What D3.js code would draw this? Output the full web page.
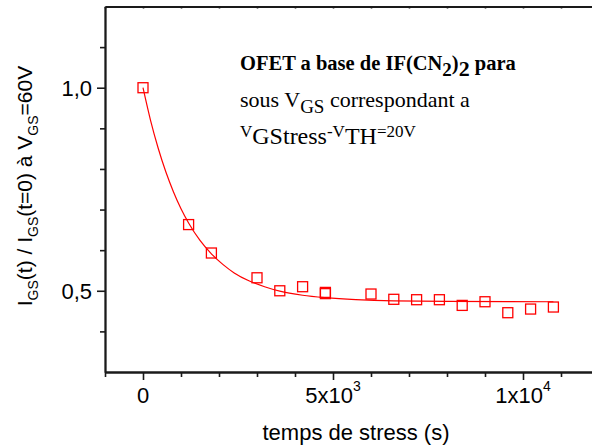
<!DOCTYPE html>
<html><head><meta charset="utf-8">
<script src="https://cdn.jsdelivr.net/npm/d3@7"></script>
<style>body{margin:0;background:#fff}svg{display:block}</style>
</head><body><svg id="c" width="592" height="448"></svg>
<script>
// measured data (stress time in s, normalized current)
const timeS = [0,1200,1800,3000,3600,4200,4800,4800,6000,6600,7200,7800,8400,9000,9600,10200,10800];
const ratio = [1.0,0.663,0.593,0.532,0.500,0.510,0.496,0.493,0.492,0.479,0.478,0.478,0.464,0.473,0.446,0.455,0.460];
// fitted decay curve
const fitTime  = [0,200,400,600,800,1000,1200,1500,1800,2100,2400,2800,3200,3600,4200,4800,5600,6600,8000,10800];
const fitRatio = [1.000,0.919,0.851,0.793,0.744,0.702,0.667,0.624,0.591,0.565,0.544,0.524,0.510,0.499,0.489,0.483,0.478,0.475,0.474,0.473];
const xMajor = [0,5000,10000];
const xMinor = [-1000,1000,2000,3000,4000,6000,7000,8000,9000,11000];
const xTickBase = ["0","5x10","1x10"];
const xTickExp  = ["","3","4"];
const yMajor = [0.5,1.0];
const yMinor = [0.4,0.6,0.7,0.8,0.9,1.1];
const yTickLabels = ["0,5","1,0"];

const svg = d3.select("#c");
const L=105, R=599, T=6.5, B=372;
const x = d3.scaleLinear().domain([-1000,12000]).range([L,R]);
const y = d3.scaleLinear().domain([0.3,1.2]).range([B,T]);
const axisCol = "#1a1a1a";
const sans = "'Liberation Sans', Arial, sans-serif";
const serif = "'Liberation Serif', 'Times New Roman', serif";

function styleAxis(g){
  g.selectAll("path.domain").attr("stroke",axisCol).attr("stroke-width",1.8);
  g.selectAll(".tick line").attr("stroke",axisCol).attr("stroke-width",1.6);
  g.selectAll(".tick text").remove();
}
// bottom
svg.append("g").attr("transform",`translate(0,${B})`)
  .call(d3.axisBottom(x).tickValues(xMinor).tickSize(5).tickSizeOuter(0).tickFormat("")).call(styleAxis);
svg.append("g").attr("transform",`translate(0,${B})`)
  .call(d3.axisBottom(x).tickValues(xMajor).tickSize(8).tickSizeOuter(0).tickFormat("")).call(styleAxis);
// top (inward small ticks)
svg.append("g").attr("transform",`translate(0,${T})`)
  .call(d3.axisBottom(x).tickValues(xMinor.concat(xMajor)).tickSize(2).tickSizeOuter(0).tickFormat("")).call(styleAxis);
// left
svg.append("g").attr("transform",`translate(${L},0)`)
  .call(d3.axisLeft(y).tickValues(yMinor).tickSize(5).tickSizeOuter(0).tickFormat("")).call(styleAxis);
svg.append("g").attr("transform",`translate(${L},0)`)
  .call(d3.axisLeft(y).tickValues(yMajor).tickSize(8).tickSizeOuter(0).tickFormat("")).call(styleAxis);

// x tick labels
xMajor.forEach((v,i)=>{
  const t = svg.append("text").attr("x",x(v)).attr("y",403).attr("text-anchor","middle")
    .attr("font-family",sans).attr("font-size",22).attr("fill","#000");
  t.append("tspan").text(xTickBase[i]);
  if(xTickExp[i]) t.append("tspan").attr("dy",-12).attr("font-size",14).text(xTickExp[i]);
});
// y tick labels
yMajor.forEach((v,i)=>{
  svg.append("text").attr("x",92).attr("y",y(v)+8).attr("text-anchor","end")
    .attr("font-family",sans).attr("font-size",22).attr("fill","#000").text(yTickLabels[i]);
});
// axis titles
svg.append("text").attr("x",356).attr("y",440).attr("text-anchor","middle")
  .attr("font-family",sans).attr("font-size",22).attr("fill","#000").text("temps de stress (s)");
const yl = svg.append("text").attr("transform","translate(32,186) rotate(-90)").attr("text-anchor","middle")
  .attr("font-family",sans).attr("font-size",21).attr("fill","#000");
yl.append("tspan").text("I");
yl.append("tspan").attr("dy",6).attr("font-size",14).text("GS");
yl.append("tspan").attr("dy",-6).text("(t) / I");
yl.append("tspan").attr("dy",6).attr("font-size",14).text("GS");
yl.append("tspan").attr("dy",-6).text("(t=0) à V");
yl.append("tspan").attr("dy",6).attr("font-size",14).text("GS");
yl.append("tspan").attr("dy",-6).text("=60V");

// fit curve
svg.append("path").datum(fitTime.map((t,i)=>[t,fitRatio[i]]))
  .attr("d",d3.line().x(d=>x(d[0])).y(d=>y(d[1])).curve(d3.curveMonotoneX))
  .attr("fill","none").attr("stroke","#ff0000").attr("stroke-width",1.2);
// squares
const s=10;
svg.selectAll("rect.pt").data(timeS.map((t,i)=>[t,ratio[i]])).enter().append("rect")
  .attr("x",d=>x(d[0])-s/2).attr("y",d=>y(d[1])-s/2).attr("width",s).attr("height",s)
  .attr("fill","none").attr("stroke","#ff0000").attr("stroke-width",1.3);

// annotation
const a1 = svg.append("text").attr("x",240).attr("y",70).attr("font-family",serif)
  .attr("font-size",20.5).attr("font-weight","bold").attr("fill","#000");
a1.append("tspan").text("OFET a base de IF(CN");
a1.append("tspan").attr("dy",6).attr("font-size",19).text("2");
a1.append("tspan").attr("dy",-6).text(")");
a1.append("tspan").attr("dy",6).attr("font-size",22).text("2");
a1.append("tspan").attr("dy",-6).text(" para");
const a2 = svg.append("text").attr("x",240).attr("y",107).attr("font-family",serif)
  .attr("font-size",22).attr("fill","#000");
a2.append("tspan").text("sous V");
a2.append("tspan").attr("dy",6).attr("font-size",19).text("GS");
a2.append("tspan").attr("dy",-6).text(" correspondant a");
const a3 = svg.append("text").attr("x",240).attr("y",137).attr("font-family",serif)
  .attr("font-size",17).attr("fill","#000");
a3.append("tspan").text("V");
a3.append("tspan").attr("dy",7).attr("font-size",24).text("GStress");
a3.append("tspan").attr("dy",-7).text("-V");
a3.append("tspan").attr("dy",7).attr("font-size",24).text("TH");
a3.append("tspan").attr("dy",-7).text("=20V");
</script></body></html>
